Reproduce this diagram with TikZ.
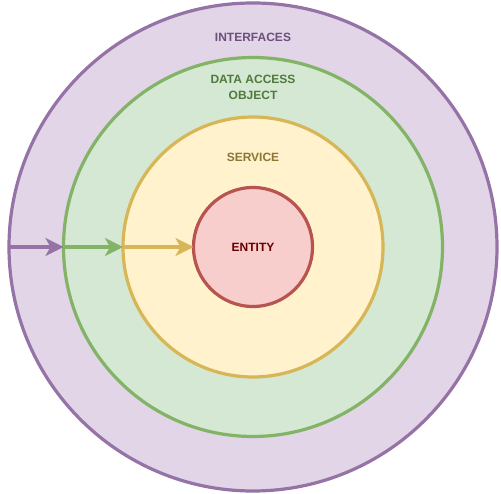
\documentclass[tikz,border=0pt]{standalone}
\usepackage{fontspec}
\setmainfont{Liberation Sans}
\usetikzlibrary{arrows.meta}
\definecolor{pfill}{HTML}{E1D5E7}\definecolor{pline}{HTML}{9673A6}\definecolor{ptext}{HTML}{6C4F7C}
\definecolor{gfill}{HTML}{D5E8D4}\definecolor{gline}{HTML}{82B366}\definecolor{gtext}{HTML}{4F7A3C}
\definecolor{yfill}{HTML}{FFF2CC}\definecolor{yline}{HTML}{D6B656}\definecolor{ytext}{HTML}{8C7535}
\definecolor{rfill}{HTML}{F8CECC}\definecolor{rline}{HTML}{B85450}\definecolor{rtext}{HTML}{660000}
\tikzset{
  ring/.style={circle, line width=3.2pt, inner sep=0pt, outer sep=0pt},
  lbl/.style={font=\fontsize{12}{16}\selectfont\bfseries, align=center, inner sep=0pt},
  conn/.style={line width=3.2pt, -{Stealth[length=18pt, width=18pt, inset=5pt]}}
}
\begin{document}
\begin{tikzpicture}[x=1pt,y=-1pt]
\useasboundingbox[fill=white] (0,0) rectangle (501,494);
\node[ring, draw=pline, fill=pfill, minimum size=488pt] (iface) at (253,247) {};
\node[ring, draw=gline, fill=gfill, minimum size=379pt] (dao) at (253,247) {};
\node[ring, draw=yline, fill=yfill, minimum size=260pt] (svc) at (253,247) {};
\node[ring, draw=rline, fill=rfill, minimum size=119pt] (ent) at (253,247) {};
\draw[conn, pline] (iface.west) -- (dao.west);
\draw[conn, gline] (dao.west) -- (svc.west);
\draw[conn, yline] (svc.west) -- (ent.west);
\node[lbl, text=ptext] (t1) at (253,37) {INTERFACES};
\node[lbl, text=gtext] (t2) at (253,87) {DATA ACCESS\\OBJECT};
\node[lbl, text=ytext] (t3) at (253,157) {SERVICE};
\node[lbl, text=rtext] (t4) at (ent.center) {ENTITY};
\end{tikzpicture}
\end{document}
